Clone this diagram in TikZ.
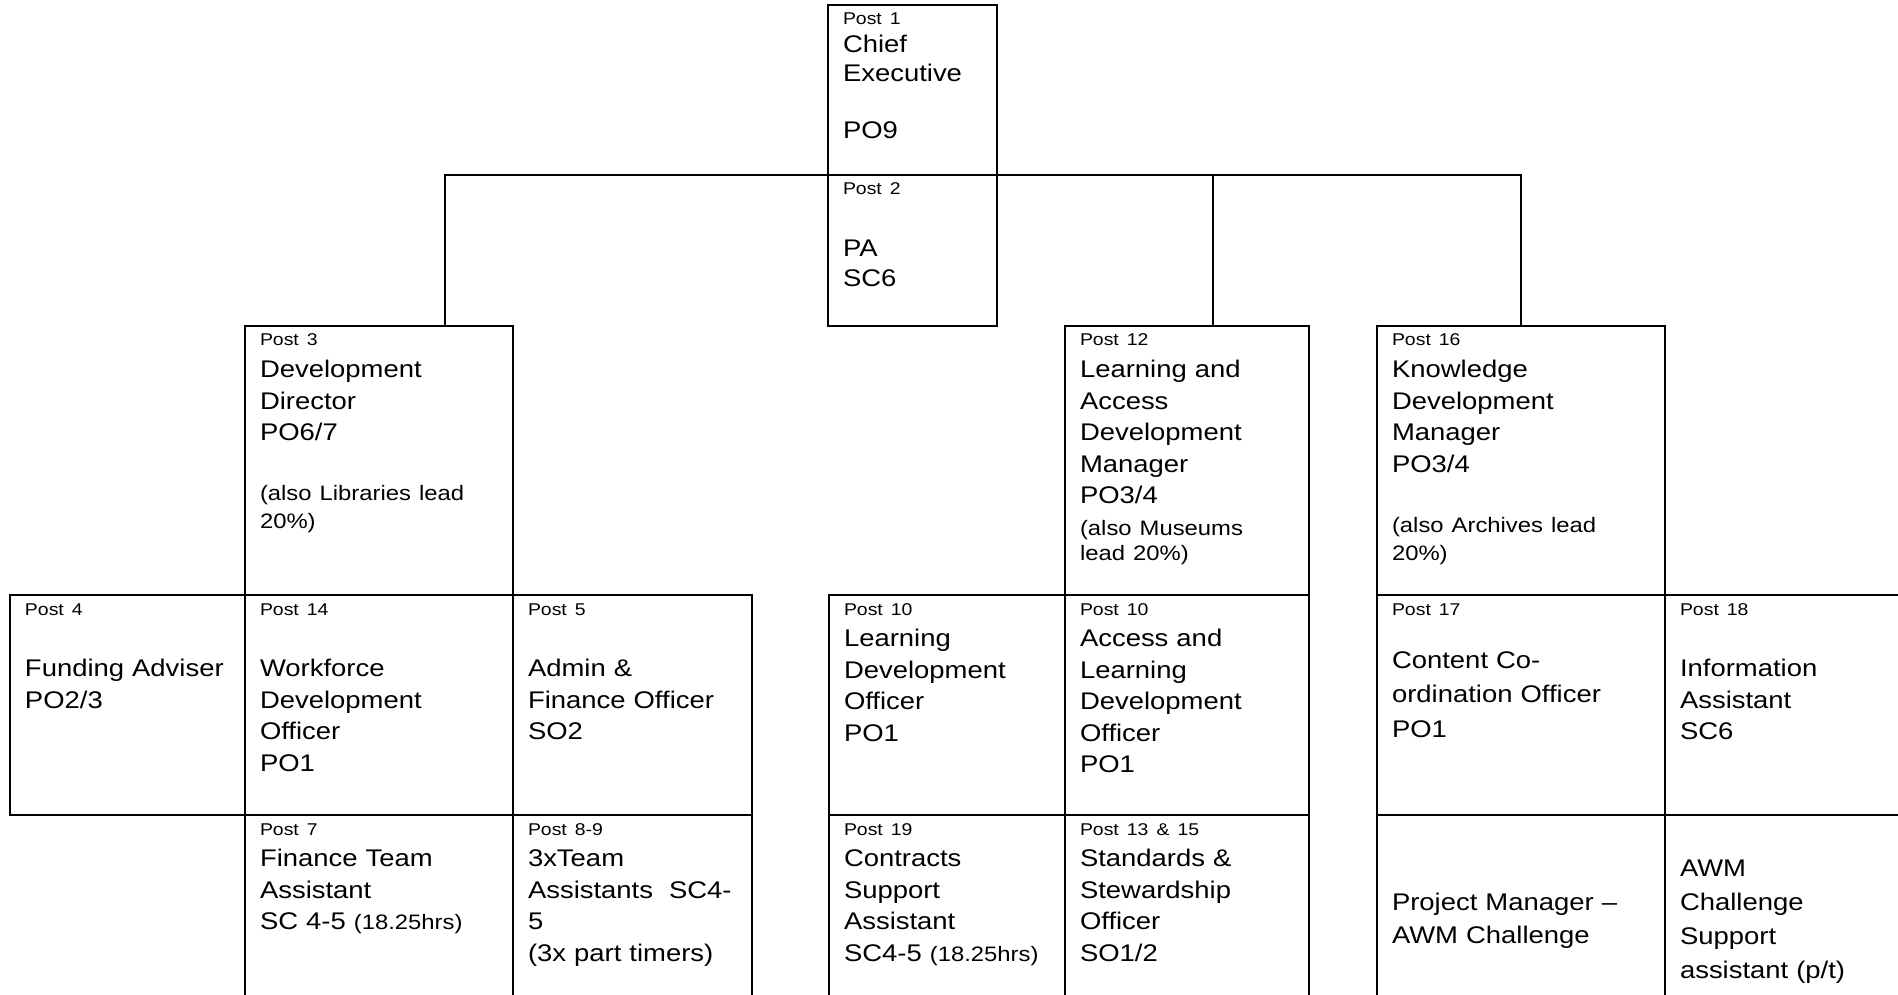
\documentclass[tikz,border=0pt]{standalone}
\usepackage{fontspec}
\setmainfont{Liberation Sans}[FakeStretch=1.14]
\usetikzlibrary{positioning}
\newcommand{\postsz}{\fontsize{9.7}{12}\selectfont}
\newcommand{\notesz}{\fontsize{11.9}{15.3}\selectfont}
\newcommand{\rolesz}{\fontsize{13.7}{17.93}\selectfont}
\tikzset{
  post/.style={rectangle,draw,line width=1.1pt,anchor=north west,align=left,inner xsep=0.3cm,inner ysep=0.16cm,outer sep=0pt,text height=0.24cm,font=\rolesz},
  link/.style={line width=1.1pt}
}

\begin{document}
\begin{tikzpicture}
    \useasboundingbox (0,0) rectangle (37.96,-19.9);
    \clip (0,0) rectangle (37.96,-19.9);

    \node[post,text width=2.78cm,text depth=2.84cm] (p1) at (16.56,-0.1) {{\postsz Post 1}\\[-0.09cm]Chief\\[-0.05cm]Executive\\[0.52cm]PO9};
    \node[post,text width=2.78cm,text depth=2.46cm] (p2) at (16.56,-3.5) {{\postsz Post 2}\\[0.6cm]PA\\[-0.03cm]SC6};

    \node[post,text width=4.76cm,text depth=4.82cm] (p3) at (4.9,-6.52) {{\postsz Post 3}\\Development\\Director\\PO6/7\\[0.57cm]{\notesz (also Libraries lead}\\[-0.07cm]{\notesz 20\%)}};
    \node[post,text width=4.28cm,text depth=4.82cm] (p12) at (21.3,-6.52) {{\postsz Post 12}\\Learning and\\Access\\Development\\Manager\\PO3/4\\{\notesz (also Museums}\\[-0.13cm]{\notesz lead 20\%)}};
    \node[post,text width=5.16cm,text depth=4.82cm] (p16) at (27.54,-6.52) {{\postsz Post 16}\\Knowledge\\Development\\Manager\\PO3/4\\[0.57cm]{\notesz (also Archives lead}\\[-0.07cm]{\notesz 20\%)}};

    \node[post,text width=4.1cm,text depth=3.84cm] (p4) at (0.2,-11.9) {{\postsz Post 4}\\[0.6cm]Funding Adviser\\PO2/3};
    \node[post,text width=4.76cm,text depth=3.84cm] (p14) at (4.9,-11.9) {{\postsz Post 14}\\[0.6cm]Workforce\\Development\\Officer\\PO1};
    \node[post,text width=4.18cm,text depth=3.84cm] (p5) at (10.26,-11.9) {{\postsz Post 5}\\[0.6cm]Admin \&\\Finance Officer\\SO2};
    \node[post,text width=4.12cm,text depth=3.84cm] (p10a) at (16.58,-11.9) {{\postsz Post 10}\\Learning\\Development\\Officer\\PO1};
    \node[post,text width=4.28cm,text depth=3.84cm] (p10b) at (21.3,-11.9) {{\postsz Post 10}\\Access and\\Learning\\Development\\Officer\\PO1};
    \node[post,text width=5.16cm,text depth=3.84cm] (p17) at (27.54,-11.9) {{\postsz Post 17}\\[0.43cm]Content Co-\\[0.06cm]ordination Officer\\[0.06cm]PO1};
    \node[post,text width=4.7cm,text depth=3.84cm] (p18) at (33.3,-11.9) {{\postsz Post 18}\\[0.6cm]Information\\Assistant\\SC6};

    \node[post,text width=4.76cm,text depth=4.34cm] (p7) at (4.9,-16.3) {{\postsz Post 7}\\Finance Team\\Assistant\\SC 4-5 {\notesz (18.25hrs)}};
    \node[post,text width=4.18cm,text depth=4.34cm] (p89) at (10.26,-16.3) {{\postsz Post 8-9}\\3xTeam\\Assistants\ \ SC4-\\5\\(3x part timers)};
    \node[post,text width=4.12cm,text depth=4.34cm] (p19) at (16.58,-16.3) {{\postsz Post 19}\\Contracts\\Support\\Assistant\\SC4-5 {\notesz (18.25hrs)}};
    \node[post,text width=4.28cm,text depth=4.34cm] (p1315) at (21.3,-16.3) {{\postsz Post 13 \& 15}\\Standards \&\\Stewardship\\Officer\\SO1/2};
    \node[post,text width=5.16cm,text height=1.74cm,text depth=2.84cm] (pm) at (27.54,-16.3) {Project Manager –\\[0.03cm]AWM Challenge};
    \node[post,text width=4.7cm,text height=1.07cm,text depth=3.51cm] (awm) at (33.3,-16.3) {AWM\\[0.05cm]Challenge\\[0.05cm]Support\\[0.05cm]assistant (p/t)};

    \coordinate (busL) at (8.9,-3.5);
    \coordinate (busM) at (24.26,-3.5);
    \draw[link] (busL |- p3.north) -- (busL) -- (p16.north |- busL) -- (p16.north);
    \draw[link] (busM) -- (busM |- p12.north);
\end{tikzpicture}
\end{document}
